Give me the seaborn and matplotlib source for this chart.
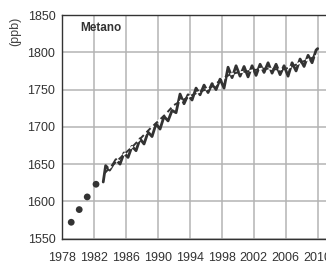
import numpy as np
import pandas as pd
import matplotlib
matplotlib.use('Agg')
import matplotlib.pyplot as plt
import seaborn as sns

# annual flask points (early record)
dot_years = [1979.2, 1980.2, 1981.2, 1982.3]
dot_ppb = [1572, 1589, 1606, 1623]

# monthly record, read as peaks / troughs of the seasonal cycle
seas_years = [1983.2, 1983.5, 1984.0,
              1984.8, 1985.3, 1985.8, 1986.3, 1986.8, 1987.3, 1987.8, 1988.3,
              1988.8, 1989.3, 1989.8, 1990.3, 1990.8, 1991.3, 1991.8, 1992.3,
              1992.8, 1993.3, 1993.8, 1994.3, 1994.8, 1995.3, 1995.8, 1996.3,
              1996.8, 1997.3, 1997.8, 1998.3, 1998.8, 1999.3, 1999.8, 2000.3,
              2000.8, 2001.3, 2001.8, 2002.3, 2002.8, 2003.3, 2003.8, 2004.3,
              2004.8, 2005.3, 2005.8, 2006.3, 2006.8, 2007.3, 2007.8, 2008.3,
              2008.8, 2009.3, 2009.8, 2010.0]
seas_ppb = [1626, 1648, 1642,
            1656, 1650, 1665, 1659, 1674, 1668, 1684, 1677,
            1693, 1687, 1704, 1697, 1714, 1708, 1722, 1719,
            1744, 1731, 1743, 1736, 1752, 1743, 1756, 1746,
            1758, 1750, 1764, 1752, 1780, 1766, 1782, 1768,
            1781, 1767, 1782, 1769, 1784, 1773, 1786, 1772,
            1784, 1770, 1782, 1768, 1786, 1775, 1791, 1781,
            1796, 1786, 1803, 1805]

# deseasonalised trend
trend_years = [1983.4, 1984, 1985, 1986, 1987, 1988, 1989, 1990, 1991, 1992,
               1993, 1994, 1995, 1996, 1997, 1998, 1999, 2000, 2001, 2002,
               2003, 2004, 2005, 2006, 2007, 2008, 2009, 2010]
trend_ppb = [1638, 1645, 1655, 1665, 1675, 1686, 1697, 1707, 1717, 1729,
             1735, 1741, 1746, 1750, 1755, 1764, 1770, 1773, 1774, 1776,
             1778, 1778, 1777, 1778, 1782, 1787, 1791, 1796]

xticks = [1978, 1982, 1986, 1990, 1994, 1998, 2002, 2006, 2010]
yticks = [1550, 1600, 1650, 1700, 1750, 1800, 1850]

sns.set_theme(style='whitegrid')
plt.rcParams['font.family'] = ['Liberation Sans', 'DejaVu Sans']

dark = '#333333'
fig = plt.figure(figsize=(3.26, 2.64), dpi=100)
ax = fig.add_axes([0.189, 0.096, 0.811, 0.847])

seas = pd.DataFrame({'year': seas_years, 'ppb': seas_ppb})
trend = pd.DataFrame({'year': trend_years, 'ppb': trend_ppb})
dots = pd.DataFrame({'year': dot_years, 'ppb': dot_ppb})

sns.lineplot(data=seas, x='year', y='ppb', ax=ax, color=dark, lw=2.0, sort=False)
sns.lineplot(data=trend, x='year', y='ppb', ax=ax, color=dark, lw=1.4,
             linestyle=(0, (3, 2)), gapcolor='white')
sns.scatterplot(data=dots, x='year', y='ppb', ax=ax, color=dark, s=24,
                edgecolor='none')

ax.set_xlim(1978, 2011.04)
ax.set_ylim(1550, 1850)
ax.set_xticks(xticks)
ax.set_yticks(yticks)
ax.set_xlabel('')
ax.set_ylabel('')
ax.grid(True, color='#b4b4b4', lw=1.1)
for s in ['left', 'bottom', 'top']:
    ax.spines[s].set_visible(True)
    ax.spines[s].set_color(dark)
    ax.spines[s].set_linewidth(1.0)
ax.spines['right'].set_visible(False)
ax.tick_params(axis='both', direction='inout', length=5, width=1.0,
               color=dark, labelsize=9, labelcolor='#333333', pad=2)
ax.tick_params(axis='x', pad=7)

ax.text(0.07, 0.942, 'Metano', transform=ax.transAxes, fontsize=8.5,
        fontweight='bold', color=dark, va='center', ha='left')
fig.text(15 / 326, 1 - 31 / 264, '(ppb)', rotation=90, fontsize=9,
         color='#444444', ha='center', va='center')

fig.savefig('out.png', dpi=100)
